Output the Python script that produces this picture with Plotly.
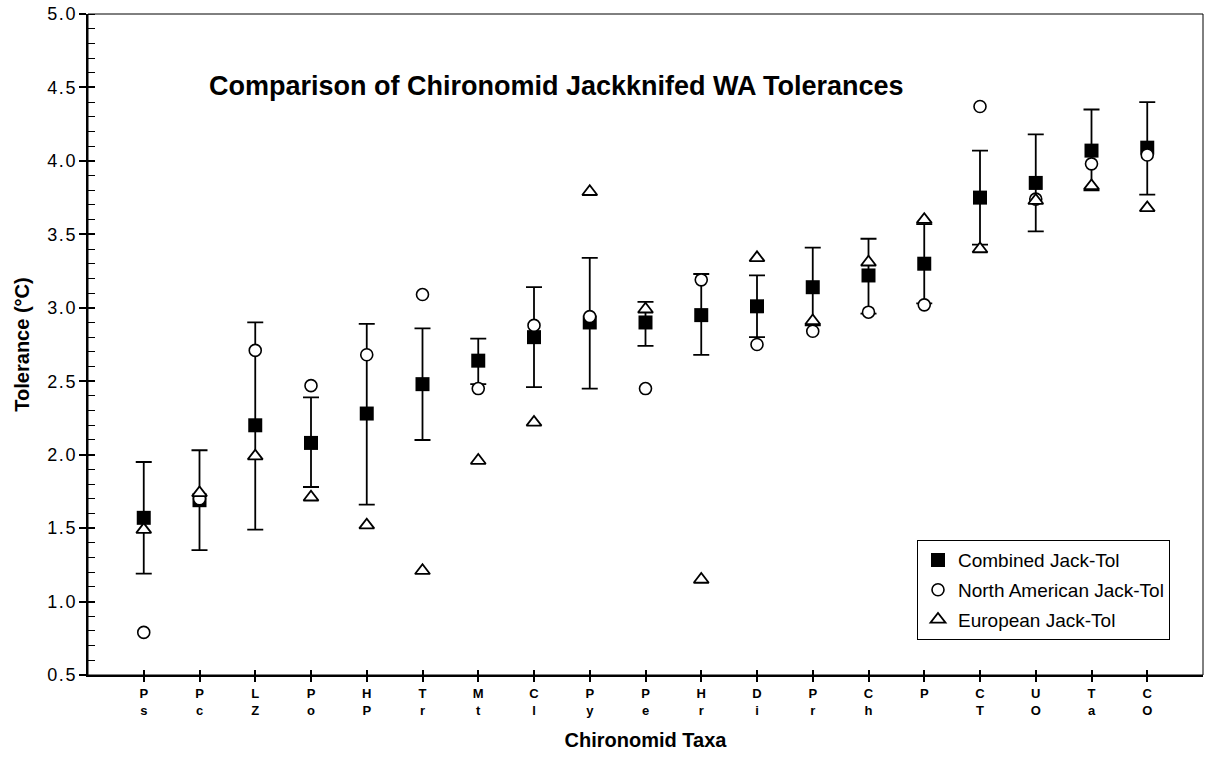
import plotly.graph_objects as go

# Taxa tick labels (two-line codes)
tick_top = ["P", "P", "L", "P", "H", "T", "M", "C", "P", "P", "H", "D", "P", "C", "P", "C", "U", "T", "C"]
tick_bot = ["s", "c", "Z", "o", "P", "r", "t", "l", "y", "e", "r", "i", "r", "h", "", "T", "O", "a", "O"]

combined = [1.57, 1.69, 2.20, 2.08, 2.28, 2.48, 2.64, 2.80, 2.90, 2.90, 2.95, 3.01, 3.14, 3.22, 3.30, 3.75, 3.85, 4.07, 4.09]
combined_upper = [1.95, 2.03, 2.90, 2.39, 2.89, 2.86, 2.79, 3.14, 3.34, 3.04, 3.23, 3.22, 3.41, 3.47, 3.57, 4.07, 4.18, 4.35, 4.40]
combined_lower = [1.19, 1.35, 1.49, 1.78, 1.66, 2.10, 2.48, 2.46, 2.45, 2.74, 2.68, 2.80, 2.88, 2.96, 3.03, 3.43, 3.52, 3.80, 3.77]
north_american = [0.79, 1.70, 2.71, 2.47, 2.68, 3.09, 2.45, 2.88, 2.94, 2.45, 3.19, 2.75, 2.84, 2.97, 3.02, 4.37, 3.74, 3.98, 4.04]
european = [1.49, 1.74, 1.99, 1.71, 1.52, 1.21, 1.96, 2.22, 3.79, 2.99, 1.15, 3.34, 2.91, 3.31, 3.60, 3.40, 3.73, 3.83, 3.68]

y_ticks = [0.5, 1.0, 1.5, 2.0, 2.5, 3.0, 3.5, 4.0, 4.5, 5.0]

FONT = "Liberation Sans, Arial, Helvetica, sans-serif"

xs = list(range(len(tick_top)))
ticktext = [f"{a}<br>{b if b else ' '}" for a, b in zip(tick_top, tick_bot)]
y_ticktext = ["\u200a.\u200a".join(f"{v:.1f}".split(".")) for v in y_ticks]
err_plus = [u - c for u, c in zip(combined_upper, combined)]
err_minus = [c - l for c, l in zip(combined, combined_lower)]

fig = go.Figure()
fig.add_trace(go.Scatter(
    x=xs, y=combined, mode="markers", name="Combined Jack-Tol", legendgroup="a",
    marker=dict(symbol="square", size=14, color="black", line=dict(width=0)),
    error_y=dict(type="data", symmetric=False, array=err_plus, arrayminus=err_minus,
                 color="black", thickness=1.8, width=8),
))
fig.add_trace(go.Scatter(
    x=xs, y=north_american, mode="markers", name="North American Jack-Tol", legendgroup="b",
    marker=dict(symbol="circle", size=12, color="white", line=dict(width=1.6, color="black")),
))
fig.add_trace(go.Scatter(
    x=xs, y=european, mode="markers", name="European Jack-Tol", legendgroup="c",
    marker=dict(symbol="triangle-up", size=13, color="white", line=dict(width=1.8, color="black")),
))
# helper trace so the overlay axes (inner tick marks) are drawn
fig.add_trace(go.Scatter(x=[None], y=[None], xaxis="x2", yaxis="y2", showlegend=False,
                         hoverinfo="skip", mode="markers"))

fig.add_annotation(
    text="Comparison of Chironomid Jackknifed WA Tolerances",
    xref="paper", yref="paper", x=0.4206, y=0.891, showarrow=False,
    font=dict(family=FONT, size=27, color="black", weight="bold"),
    xanchor="center", yanchor="middle",
)

fig.add_shape(type="rect", xref="paper", yref="paper", x0=0, y0=0, x1=1, y1=1,
              line=dict(color="black", width=1), layer="above")

fig.update_layout(
    width=1208, height=758,
    margin=dict(l=88, r=5, t=14, b=83),
    paper_bgcolor="white", plot_bgcolor="white",
    font=dict(family=FONT, color="black"),
    showlegend=True,
    legend=dict(
        x=0.7435, y=0.204, xanchor="left", yanchor="top",
        bgcolor="white", bordercolor="black", borderwidth=1,
        font=dict(family=FONT, size=19, color="black"),
        tracegroupgap=2, itemsizing="trace", traceorder="grouped",
    ),
    xaxis=dict(
        range=[-1, 19], tickmode="array", tickvals=xs, ticktext=ticktext,
        showgrid=False, zeroline=False, showline=True, linecolor="black", linewidth=2,
        ticks="outside", ticklen=5, tickwidth=1.5, tickcolor="black",
        tickfont=dict(family=FONT, size=13, color="black", weight="bold"),
        title=dict(text="Chironomid Taxa", standoff=16,
                   font=dict(family=FONT, size=20, color="black", weight="bold")),
    ),
    xaxis2=dict(
        range=[-1, 19], overlaying="x", anchor="y2", side="bottom",
        tickmode="array", tickvals=xs, showticklabels=False,
        showgrid=False, zeroline=False, showline=False,
        ticks="inside", ticklen=5, tickwidth=1.5, tickcolor="black",
    ),
    yaxis=dict(
        range=[0.5, 5.0], tickmode="array", tickvals=y_ticks, ticktext=y_ticktext,
        showgrid=False, zeroline=False, showline=True, linecolor="black", linewidth=2,
        ticks="outside", ticklen=7, tickwidth=1.5, tickcolor="black",
        minor=dict(dtick=0.1, tick0=0.5, ticks="inside", ticklen=7, tickwidth=1.2,
                   tickcolor="black", showgrid=False),
        tickfont=dict(family=FONT, size=18, color="black"),
        title=dict(text="Tolerance (°C)", standoff=12,
                   font=dict(family=FONT, size=20, color="black", weight="bold")),
    ),
    yaxis2=dict(
        range=[0.5, 5.0], overlaying="y", anchor="x2", side="left",
        tickmode="array", tickvals=y_ticks, showticklabels=False,
        showgrid=False, zeroline=False, showline=False,
        ticks="inside", ticklen=7, tickwidth=1.5, tickcolor="black",
    ),
)

fig.write_html("out.html")
